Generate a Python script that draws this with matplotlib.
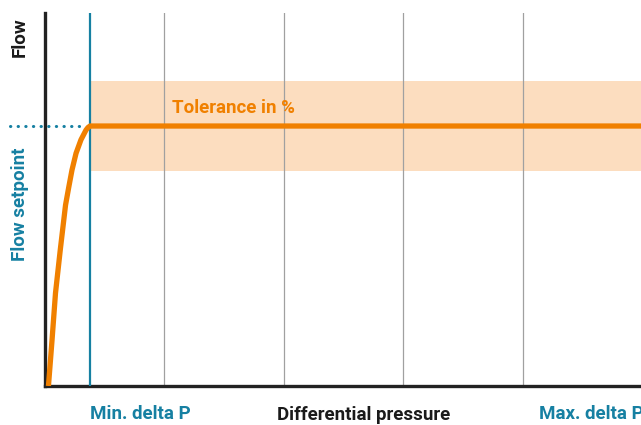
import matplotlib.pyplot as plt

# curve
curve_x = [0.033, 0.063, 0.092, 0.132, 0.176, 0.203, 0.230, 0.264, 0.305, 0.347, 0.364, 0.381, 5.0]
curve_y = [0.0, 0.123, 0.249, 0.365, 0.485, 0.533, 0.579, 0.624, 0.660, 0.686, 0.693, 0.697, 0.697]
setpoint = 0.697
tol_low, tol_high = 0.576, 0.818
min_dp = 0.381
max_dp = 5.0
grid_x = [1, 2, 3, 4]

orange = '#f08000'
blue = '#1680a2'

fig = plt.figure(figsize=(6.41, 4.25), dpi=100)
ax = fig.add_axes([44.5/641, 39/425, 597.5/641, 373/425])
ax.set_xlim(0, 5)
ax.set_ylim(0, 1)

ax.axhspan(tol_low, tol_high, xmin=min_dp/5, xmax=1, color='#fcddbf', lw=0, zorder=1)
for g in grid_x:
    ax.axvline(g, color='#a0a0a0', lw=0.9, zorder=2)
ax.axvline(min_dp, color=blue, lw=1.6, zorder=3)
ax.axvline(max_dp, color='#bfe0ee', lw=2, zorder=3)
ax.plot(curve_x, curve_y, color=orange, lw=3.8, solid_capstyle='butt', zorder=4)
ax.plot([-0.29, min_dp - 0.03], [setpoint, setpoint], color=blue, lw=2.2,
        linestyle=(0, (0.1, 2.4)), dash_capstyle='round', clip_on=False, zorder=3)

for s in ['top', 'right']:
    ax.spines[s].set_visible(False)
for s in ['left', 'bottom']:
    ax.spines[s].set_linewidth(2.4)
    ax.spines[s].set_color('#222222')
ax.set_xticks([])
ax.set_yticks([])

kw = dict(fontfamily='Roboto', fontweight='bold', fontsize=13.5)
ax.text(1.07, 0.745, 'Tolerance in %', color=orange, ha='left', va='center', **kw)
fig.text(20/641, 1 - 37/425, 'Flow', color='#1a1a1a', rotation=90, ha='center', va='center', **kw)
fig.text(20/641, 1 - 204/425, 'Flow setpoint', color=blue, rotation=90, ha='center', va='center', **kw)
fig.text(140/641, 1 - 414/425, 'Min. delta P', color=blue, ha='center', va='center', **kw)
fig.text(364/641, 1 - 415/425, 'Differential pressure', color='#1a1a1a', ha='center', va='center', **kw)
fig.text(539/641, 1 - 414/425, 'Max. delta P', color=blue, ha='left', va='center', **kw)

plt.savefig('out.png', dpi=100)
